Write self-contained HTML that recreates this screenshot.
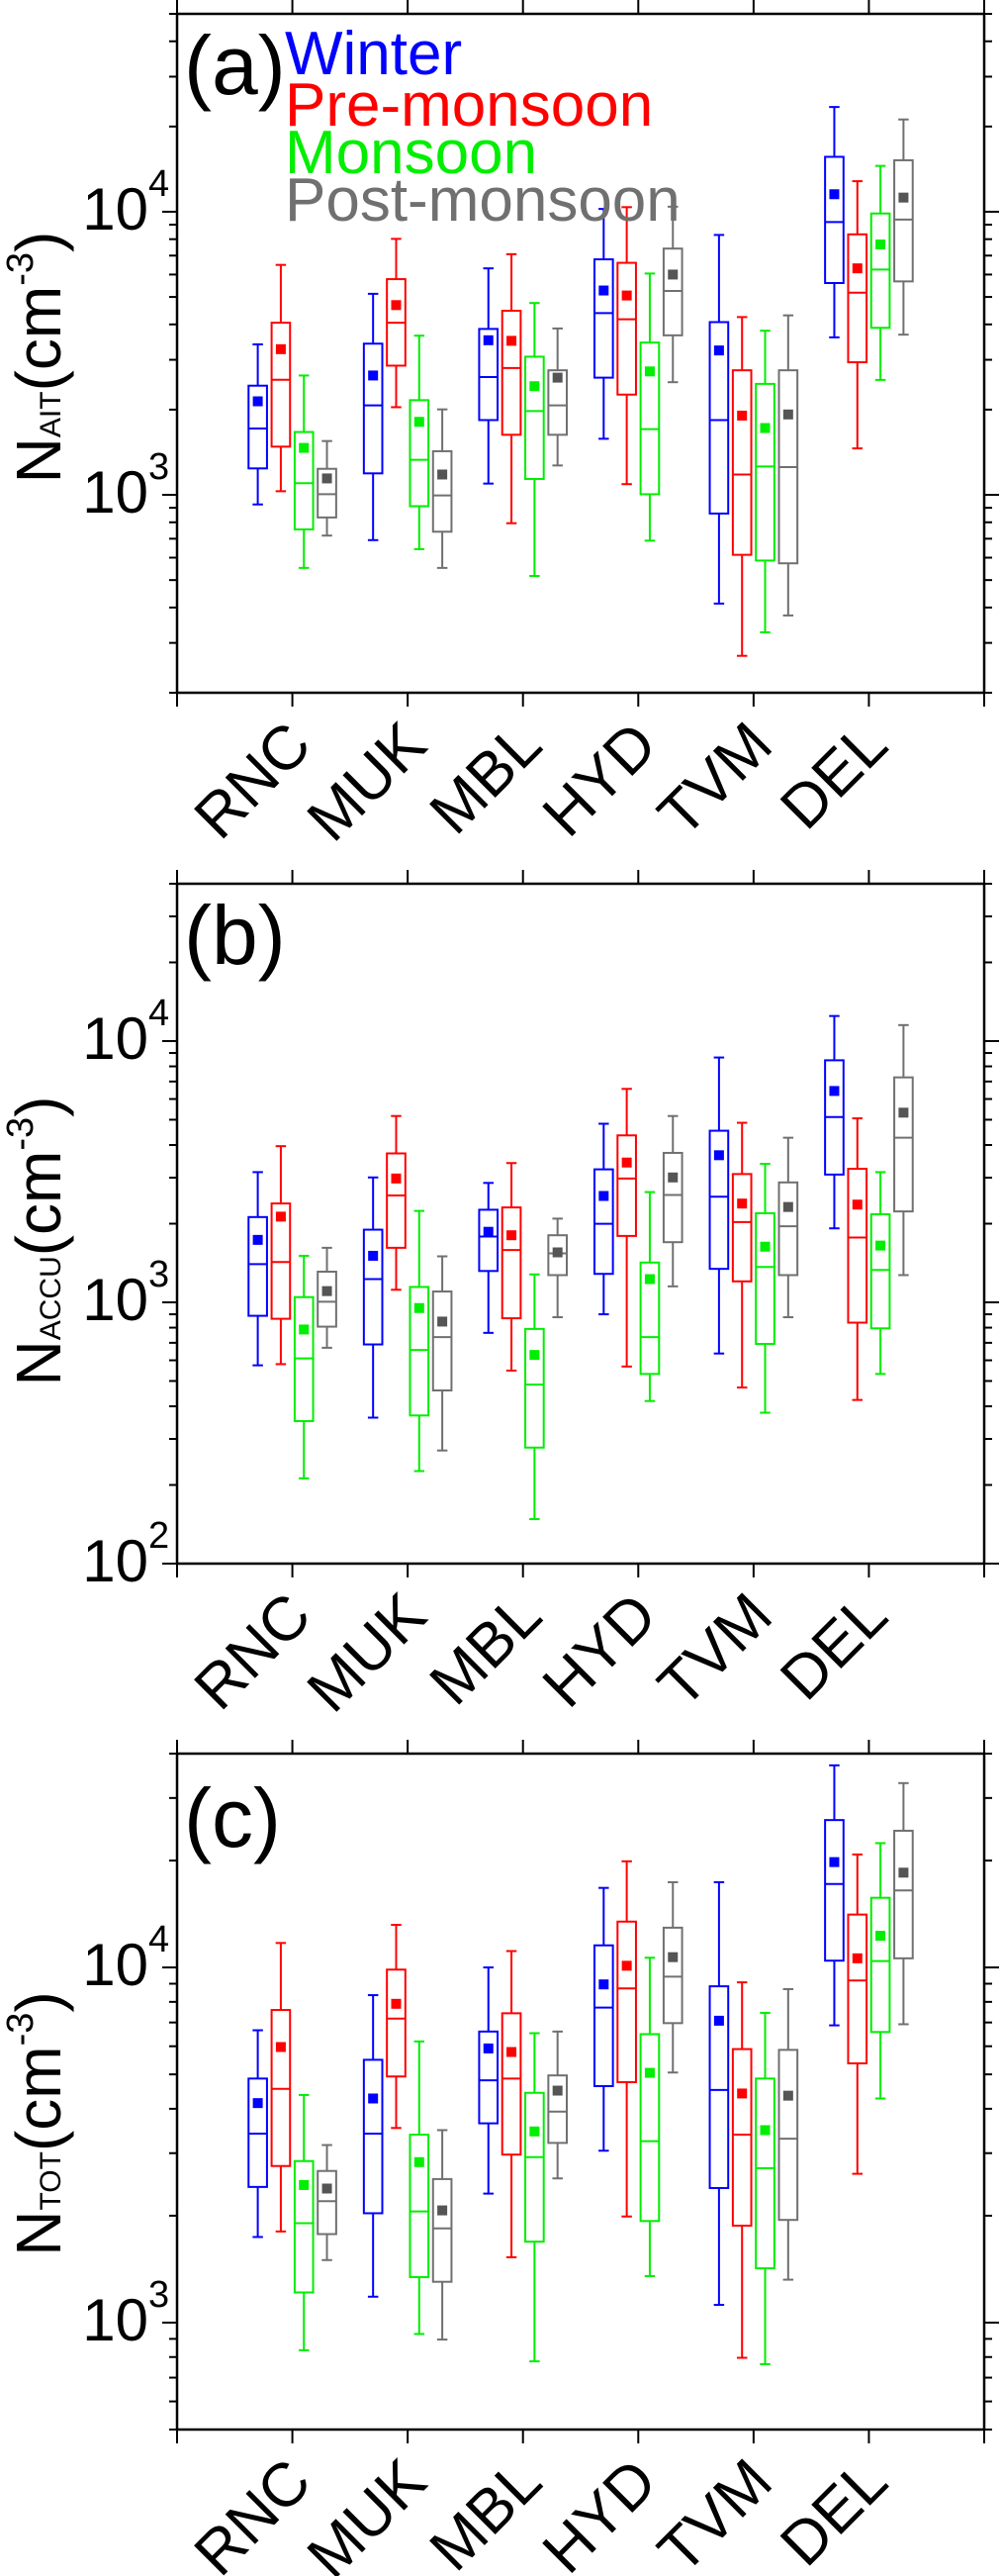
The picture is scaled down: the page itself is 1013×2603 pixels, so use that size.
<!DOCTYPE html>
<html><head><meta charset="utf-8">
<style>
html,body{margin:0;padding:0;background:#fff;}
svg{display:block;font-family:"Liberation Sans",Arial,sans-serif;}
</style></head>
<body>
<svg id="fig" width="1013" height="2603" viewBox="0 0 1013 2603" xmlns="http://www.w3.org/2000/svg"></svg>
<script>
// ---- data (order per station: Winter, Pre-monsoon, Monsoon, Post-monsoon) ----
const stations = ["RNC","MUK","MBL","HYD","TVM","DEL"];
const seasons = ["Winter","Pre-monsoon","Monsoon","Post-monsoon"];
const seasonColors = ["#0000ff","#ff0000","#00ee00","#707070"];
const meanColors = ["#0000ff","#ff0000","#00ee00","#555555"];

// Panel (a) N_AIT
const aitHigh = [3400,6490,2640,1549, 5130,8020,3650,2004, 6310,7080,4760,3870, 10230,10380,6050,10420, 8280,4246,3800,4305, 23440,12820,14520,21180];
const aitQ3   = [2430,4055,1667,1236, 3420,5780,2160,1426, 3855,4470,3076,2754, 6790,6600,3450,7410, 4075,2754,2466,2754, 15630,8320,9860,15200];
const aitMed  = [1715,2550,1100,1005, 2070,4055,1330,995, 2606,2805,1977,2070, 4385,4170,1706,5250, 1837,1180,1259,1253, 9200,5176,6250,9380];
const aitQ1   = [1240,1480,755,832, 1191,2860,912,741, 1837,1630,1138,1630, 2594,2260,1005,3660, 859,614,586,573, 5600,2940,3890,5675];
const aitLow  = [925,1030,552,718, 692,2040,643,552, 1096,794,517,1270, 1578,1091,689,2500, 413,270,327,375, 3600,1459,2547,3680];
const aitMean = [2140,3270,1465,1143, 2640,4680,1811,1180, 3516,3500,2420,2594, 5270,5060,2729,6000, 3236,1905,1722,1923, 11530,6310,7660,11220];

// Panel (b) N_ACCU
const accuHigh = [3150,3960,1507,1617, 3006,5165,2238,1500, 2864,3412,1279,2091, 4825,6560,2642,5165, 8650,4866,3388,4266, 12470,5060,3150,11510];
const accuQ3   = [2120,2390,1047,1310, 1897,3715,1145,1100, 2261,2308,791,1806, 3228,4355,1420,3732, 4537,3097,2192,2877, 8440,3243,2173,7260];
const accuMed  = [1400,1426,610,1005, 1227,2565,657,736, 1786,1585,484,1539, 1997,2978,736,2576, 2536,2028,1365,1955, 5117,1770,1331,4266];
const accuQ1   = [888,865,351,807, 690,1617,369,460, 1318,869,278,1271, 1285,1795,532,1699, 1343,1203,693,1271, 3083,836,795,2228];
const accuLow  = [574,580,212,670, 362,1117,226,271, 764,548,148,877, 900,568,419,1151, 637,472,378,877, 1919,423,532,1271];
const accuMean = [1734,2128,787,1104, 1507,2978,951,844, 1862,1806,629,1553, 2553,3428,1227,3006, 3656,2388,1633,2317, 6440,2366,1649,5320];

// Panel (c) N_TOT
const totHigh = [6655,11720,4375,3162, 8356,13180,6190,3483, 10000,11120,6530,6600, 16750,19900,10650,17380, 17380,9080,7450,8690, 37070,20800,22390,33040];
const totQ3   = [4866,7590,2850,2673, 5495,9860,3383,2536, 6600,7430,4436,4966, 11540,13460,6490,12940, 8850,5890,4866,5860, 26000,14090,15710,24260];
const totMed  = [3404,4550,1905,2198, 3404,7180,2056,1842, 4810,4866,2924,3928, 7710,8730,3243,9420, 4518,3383,2722,3296, 17180,9190,10420,16480];
const totQ1   = [2410,2760,1216,1775, 2032,4932,1343,1303, 3640,2972,1690,3206, 4634,4753,1932,6970, 2393,1875,1422,1946, 10450,5370,6580,10610];
const totLow  = [1742,1806,836,1500, 1183,3532,929,896, 2308,1528,778,2547, 3048,1990,1352,5060, 1122,796,764,1321, 6870,2624,4276,6920];
const totMean = [4150,5970,2440,2385, 4276,7900,2831,2070, 5915,5780,3454,4500, 8960,10110,5050,10690, 7080,4417,3483,4355, 19800,10610,12280,18490];

const yTicksA = [3,4];
const yTicksB = [2,3,4];
const yTicksC = [3,4];

const NS = "http://www.w3.org/2000/svg";
const svg = document.getElementById("fig");
function mk(tag, attrs, parent){
  const e = document.createElementNS(NS, tag);
  for (const k in attrs) e.setAttribute(k, attrs[k]);
  (parent||svg).appendChild(e);
  return e;
}

const X0 = 179, X1 = 995;
function xScale(v){ return X0 + (X1 - X0) * v / 7; }

function drawPanel(p){
  const g = mk("g", {});
  
  
  const lmin = Math.log10(p.ymin), lmax = Math.log10(p.ymax);
  const yScale = v => p.bottom - (Math.log10(v) - lmin) / (lmax - lmin) * (p.bottom - p.top);

  const fr = mk("rect", {x:X0, y:p.top, width:X1-X0, height:p.bottom-p.top, fill:"none", stroke:"#000", "stroke-width":2.5}, g);
  
  

  for (let i = 0; i <= 7; i++){
    const x = xScale(i);
    const t1 = mk("line", {x1:x, x2:x, y1:p.top, y2:p.top-14, stroke:"#000", "stroke-width":2}, g);
    
    
    const t2 = mk("line", {x1:x, x2:x, y1:p.bottom, y2:p.bottom+14, stroke:"#000", "stroke-width":2}, g);
    
    
  }
  for (let d = Math.floor(lmin); d <= Math.ceil(lmax); d++){
    for (let k = 1; k <= 9; k++){
      const v = k * Math.pow(10, d);
      if (v < p.ymin*0.999 || v > p.ymax*1.001) continue;
      const y = yScale(v);
      const len = k === 1 ? 15 : 8;
      const tl = mk("line", {x1:X0, x2:X0-len, y1:y, y2:y, stroke:"#000", "stroke-width":2}, g);
      
      
      const tr = mk("line", {x1:X1, x2:X1+len, y1:y, y2:y, stroke:"#000", "stroke-width":2}, g);
      
      
    }
  }
  p.ticks.forEach(e => {
    const y = yScale(Math.pow(10, e));
    const t = mk("text", {x:150, y:y+18, "text-anchor":"end", "font-size":60, fill:"#000"}, g);
    
    
    t.textContent = "10";
    const s = mk("text", {x:150, y:y-16, "font-size":38, fill:"#000"}, g);
    
    
    s.textContent = String(e);
  });

  const tt = mk("text", {transform:`translate(61,${p.titleY}) rotate(-90)`, "text-anchor":"middle", "font-size":64, fill:"#000"}, g);
  
  
  const n1 = mk("tspan", {}, tt); n1.textContent = "N";
  const n2 = mk("tspan", {"font-size":30, dy:0}, tt); n2.textContent = p.sub;
  const n3 = mk("tspan", {}, tt); n3.textContent = "(cm";
  const n4 = mk("tspan", {"font-size":38, dy:-28}, tt); n4.textContent = "-3";
  const n5 = mk("tspan", {dy:28}, tt); n5.textContent = ")";

  stations.forEach((s, i) => {
    const x = xScale(i+1) + 22, y = p.bottom + 56;
    const t = mk("text", {transform:`translate(${x},${y}) rotate(-45)`, "text-anchor":"end", "font-size":62, fill:"#000"}, g);
    
    
    t.textContent = s;
  });

  const pl = mk("text", {x:186, y:p.labelY, "font-size":84, fill:"#000"}, g);
  
  
  pl.textContent = p.label;

  const offs = [-0.3, -0.1, 0.1, 0.3];
  const bw = 0.16, cw = 0.09;
  stations.forEach((s, i) => {
    seasons.forEach((se, j) => {
      const idx = i*4 + j;
      const cx = xScale(i + 1 + offs[j]);
      const half = (xScale(bw) - xScale(0)) / 2;
      const ch = (xScale(cw) - xScale(0)) / 2;
      const col = seasonColors[j];
      const bg = mk("g", {stroke:col, "stroke-width":2, fill:"none"}, g);
      
      
      const yh = yScale(p.high[idx]), y3 = yScale(p.q3[idx]), ym = yScale(p.med[idx]),
            y1 = yScale(p.q1[idx]), yl = yScale(p.low[idx]), yme = yScale(p.mean[idx]);
      mk("line", {x1:cx, x2:cx, y1:yh, y2:y3}, bg);
      mk("line", {x1:cx, x2:cx, y1:y1, y2:yl}, bg);
      mk("line", {x1:cx-ch, x2:cx+ch, y1:yh, y2:yh}, bg);
      mk("line", {x1:cx-ch, x2:cx+ch, y1:yl, y2:yl}, bg);
      mk("rect", {x:cx-half, y:y3, width:2*half, height:y1-y3}, bg);
      mk("line", {x1:cx-half, x2:cx+half, y1:ym, y2:ym}, bg);
      const m = mk("rect", {x:cx-5, y:yme-5, width:10, height:10, fill:meanColors[j], stroke:"none"}, g);
      
      
    });
  });
}

drawPanel({name:"panel-a-nait", top:14, bottom:700, ymin:200, ymax:50000, ticks:yTicksA, sub:"AIT", titleY:361, label:"(a)", labelY:95,
  high:aitHigh, q3:aitQ3, med:aitMed, q1:aitQ1, low:aitLow, mean:aitMean});
drawPanel({name:"panel-b-naccu", top:893, bottom:1580, ymin:100, ymax:40000, ticks:yTicksB, sub:"ACCU", titleY:1254, label:"(b)", labelY:974,
  high:accuHigh, q3:accuQ3, med:accuMed, q1:accuQ1, low:accuLow, mean:accuMean});
drawPanel({name:"panel-c-ntot", top:1772, bottom:2455, ymin:500, ymax:40000, ticks:yTicksC, sub:"TOT", titleY:2146, label:"(c)", labelY:1866,
  high:totHigh, q3:totQ3, med:totMed, q1:totQ1, low:totLow, mean:totMean});

const legY = [75,127,175,223];
seasons.forEach((s, j) => {
  const t = mk("text", {x:288, y:legY[j], "font-size":62, fill:seasonColors[j]});
  
  
  t.textContent = s;
});
</script>
</body></html>
